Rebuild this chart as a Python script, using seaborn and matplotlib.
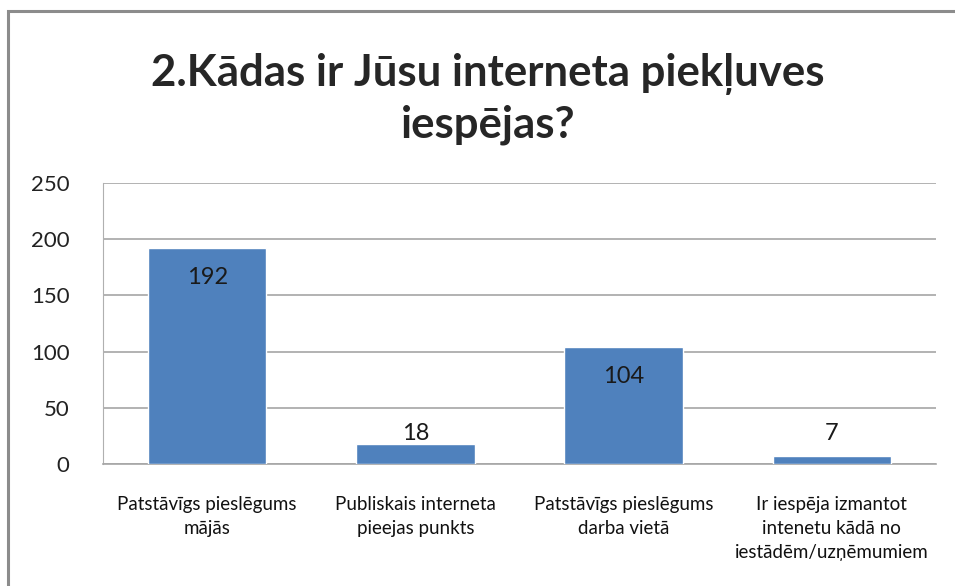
import pandas as pd
import seaborn as sns
import matplotlib.pyplot as plt
from matplotlib.patches import Rectangle

categories = [
    "Patstāvīgs pieslēgums\nmājās",
    "Publiskais interneta\npieejas punkts",
    "Patstāvīgs pieslēgums\ndarba vietā",
    "Ir iespēja izmantot\nintenetu kādā no\niestādēm/uzņēmumiem",
]
values = [192, 18, 104, 7]
yticks = [0, 50, 100, 150, 200, 250]

df = pd.DataFrame({"kat": categories, "skaits": values})

sns.set_style("white")
plt.rcParams["font.family"] = ["Lato", "DejaVu Sans"]

fig = plt.figure(figsize=(9.55, 5.86), dpi=100)
ax = fig.add_axes([103 / 955, 1 - 464 / 586, (936 - 103) / 955, (464 - 183) / 586])

sns.barplot(data=df, x="kat", y="skaits", color="#4F81BD", saturation=1,
            width=0.57, ax=ax, zorder=3)

ax.set_ylim(0, 250)
ax.set_yticks(yticks)
ax.set_yticklabels([str(t) for t in yticks], fontsize=16, color="#222222")
ax.yaxis.grid(True, color="#A6A6A6", linewidth=1.2, zorder=0)
ax.set_axisbelow(True)
ax.set_xlabel("")
ax.set_ylabel("")
ax.tick_params(axis="y", length=0, pad=24)
ax.tick_params(axis="x", length=0, pad=23)
for lbl in ax.get_xticklabels():
    lbl.set_fontsize(13.5)
    lbl.set_color("#111111")
    lbl.set_linespacing(1.5)

for s in ["top", "right"]:
    ax.spines[s].set_visible(False)
ax.spines["left"].set_color("#B0B0B0")
ax.spines["bottom"].set_color("#A6A6A6")
ax.spines["bottom"].set_linewidth(1.2)

# value labels: inside the bar end, kept above the axis for short bars
for i, v in enumerate(values):
    ax.text(i, max(v - 26, 27), str(v), ha="center", va="center",
            fontsize=17, color="#1a1a1a", zorder=4)

fig.text(488 / 955, 1 - 74 / 586, "2.Kādas ir Jūsu interneta piekļuves",
         ha="center", va="center", fontsize=31.5, fontweight="bold")
fig.text(488 / 955, 1 - 125 / 586, "iespējas?",
         ha="center", va="center", fontsize=31.5, fontweight="bold")

fig.patches.append(Rectangle((8 / 955, -0.2), 1.2, 1.2 - 11 / 586,
                             transform=fig.transFigure, fill=False,
                             edgecolor="#8C8C8C", linewidth=2.2))

fig.savefig("out.png", dpi=100)
